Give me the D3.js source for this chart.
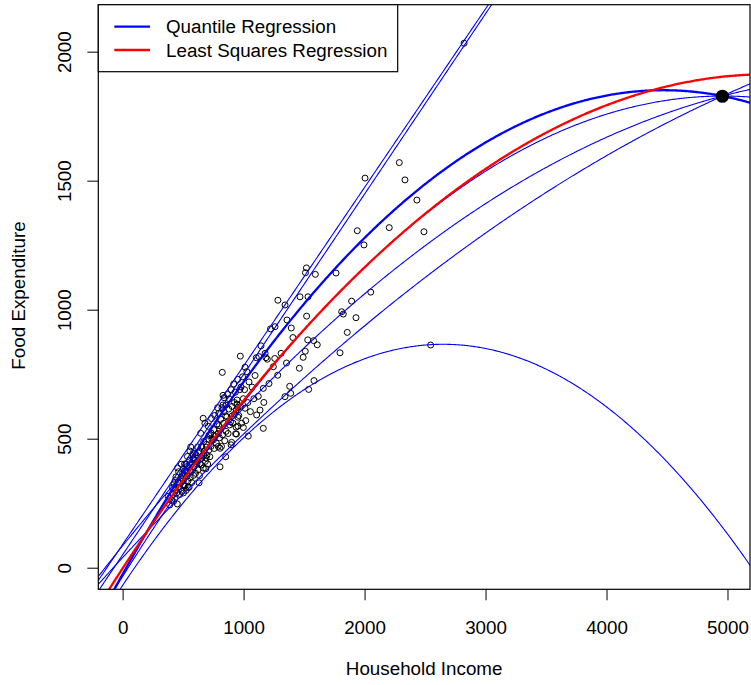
<!DOCTYPE html>
<html>
<head>
<meta charset="utf-8">
<script src="https://cdn.jsdelivr.net/npm/d3@7"></script>
<style>
  body { margin: 0; background: #fff; }
  svg text { font-family: "Liberation Sans", Arial, Helvetica, sans-serif; font-size: 18.8px; fill: #000; }
</style>
</head>
<body>
<div id="chart"></div>
<script>
// Engel data: household income vs food expenditure
var income = [
  420.16, 541.41, 901.16, 639.08, 750.88, 945.80, 829.40, 979.16, 1309.88, 1492.40,
  502.84, 616.72, 790.92, 555.88, 713.44, 838.76, 535.08, 596.44, 924.56, 487.76,
  692.64, 997.88, 507.00, 654.16, 933.92, 433.68, 587.60, 896.47, 454.48, 585.00,
  800.80, 502.44, 713.52, 906.00, 880.60, 796.83, 854.88, 1167.37, 523.80, 670.78,
  377.06, 851.54, 1121.09, 625.52, 805.54, 558.58, 884.40, 1257.50, 2051.18, 1466.33,
  730.10, 2432.39, 940.92, 1177.85, 1222.59, 1519.58, 687.66, 953.12, 953.12, 953.12,
  939.04, 1283.40, 1511.58, 1342.58, 511.80, 689.80, 1532.31, 1056.08, 1209.85, 1354.55,
  2004, 2287, 2334, 1940, 2204, 2491, 1995, 1893, 1811, 1824,
  1929, 1857, 1797, 2546, 2822.5, 4957.8, 1593, 1764, 1359, 1521,
  1394, 1260, 1408, 1530, 1579, 1609, 1144, 1105, 1127, 1185,
  1196, 1510, 1246, 1461, 1282, 1381, 1389, 1538, 1582, 1342,
  1163, 1012, 1136, 1108, 1163,
  389, 405, 412, 418, 425, 430, 436, 441, 447, 452, 458, 463, 468, 474, 480, 485, 491, 496, 499,
  503, 512, 517, 521, 526, 531, 536, 540, 545, 550, 554, 559, 563, 568, 572, 577, 581, 586, 590, 598,
  603, 607, 615, 620, 624, 632, 636, 641, 645, 649, 653, 658, 666, 667, 671, 675, 680, 684, 693, 697,
  703, 708, 712, 721, 726, 730, 735, 739, 753, 757, 762, 766, 775, 780, 785, 790, 795, 805,
  803, 812, 817, 821, 824, 826, 830, 835, 839, 844, 852, 853, 862, 867, 872, 877, 892, 897,
  905, 912, 918, 925, 932, 938, 946, 952, 960, 968, 973, 975, 984, 992, 998,
  1008, 1012, 1018, 1027, 1035, 1039, 1045, 1070, 1085, 1095
];
var foodexp = [
  255.84, 310.96, 485.68, 403.00, 495.56, 633.80, 630.76, 700.44, 830.96, 815.36,
  338.00, 412.36, 520.00, 452.40, 512.72, 658.84, 392.60, 443.56, 640.12, 333.84,
  466.96, 543.40, 317.72, 424.32, 518.96, 338.00, 419.64, 476.32, 386.36, 423.28,
  503.36, 354.64, 497.32, 588.52, 654.60, 550.73, 528.38, 640.48, 401.32, 436.00,
  276.56, 588.35, 664.20, 444.86, 462.90, 377.78, 553.15, 810.90, 1067.95, 1049.88,
  522.70, 1424.80, 517.92, 830.96, 925.58, 1162.00, 383.46, 621.12, 548.60, 583.15,
  611.95, 1036.60, 1143.30, 1018.36, 375.94, 424.86, 1049.88, 604.74, 713.74, 793.40,
  1510, 1570, 1503, 1306, 1318, 1302, 1251, 1033, 992, 983,
  969, 912, 833, 863, 2032.7, 1827.2, 1137, 1142, 960, 975,
  929, 934, 892, 883, 880, 864, 860, 814, 818, 814,
  808, 839, 779, 773, 746, 703, 676, 691, 725, 663,
  695, 777, 611, 592, 540,
  243, 262, 310, 283, 325, 268, 302, 352, 290, 247, 331, 372, 312, 284, 348, 401, 296, 366, 322,
  290, 402, 318, 376, 300, 355, 431, 336, 388, 312, 417, 349, 468, 372, 330, 405, 442, 358, 390, 415,
  366, 438, 402, 468, 380, 329, 357, 450, 521, 398, 470, 433, 579, 386, 489, 452, 560, 412, 478, 436,
  402, 548, 455, 430, 515, 470, 578, 497, 535, 462, 590, 510, 483, 557, 620, 470, 598, 391,
  535, 575, 470, 620, 757, 515, 668, 560, 605, 492, 430, 630, 585, 672, 520, 615, 565, 690,
  625, 560, 712, 595, 680, 545, 650, 730, 590, 690, 820, 625, 560, 740, 655,
  690, 618, 570, 760, 640, 510, 720, 700, 655, 745
];

// highlighted observation (largest income)
var bigPoint = [4957.8, 1827.2];

// fitted quadratic curves: y = a + b*u + c*u^2, u = income / 1000
var qrThin = [
  [90, 692, 0],
  [50, 699, 0],
  [-33.9, 750.1, -75.55],
  [84.8, 580.6, -46.19],
  [39.2, 508.7, -29.83],
  [-68.7, 705.4, -133.1]
];
var qrThick = [-25.5, 839.7, -93.96];
var lsFit = [-2.7, 717.8, -67.26];

var xTicks = [0, 1000, 2000, 3000, 4000, 5000];
var yTicks = [0, 500, 1000, 1500, 2000];

var W = 751, H = 685;
var plot = {left: 98.3, right: 750, top: 4.7, bottom: 589.3};

var svg = d3.select("#chart").append("svg")
    .attr("width", W)
    .attr("height", H);

var x = d3.scaleLinear().domain([-201, 5186]).range([plot.left, plot.right]);
var y = d3.scaleLinear().domain([-83.7, 2182]).range([plot.bottom, plot.top]);

svg.append("clipPath").attr("id", "clip")
  .append("rect")
    .attr("x", plot.left).attr("y", plot.top)
    .attr("width", plot.right - plot.left)
    .attr("height", plot.bottom - plot.top);

var pts = income.map(function(d, i) { return [d, foodexp[i]]; });

svg.append("g")
    .attr("clip-path", "url(#clip)")
  .selectAll("circle")
  .data(pts)
  .enter().append("circle")
    .attr("cx", function(d) { return x(d[0]); })
    .attr("cy", function(d) { return y(d[1]); })
    .attr("r", 3)
    .attr("fill", "none")
    .attr("stroke", "#000")
    .attr("stroke-width", 1);

// sample grid across the plot width for drawing the fits
var grid = d3.range(-201, 5190, 10);

function curve(coef) {
  return d3.line()
    .x(function(d) { return x(d); })
    .y(function(d) { var u = d / 1000; return y(coef[0] + coef[1] * u + coef[2] * u * u); })(grid);
}

var lines = svg.append("g").attr("clip-path", "url(#clip)");

qrThin.forEach(function(c) {
  lines.append("path")
    .attr("d", curve(c))
    .attr("fill", "none")
    .attr("stroke", "#0000ff")
    .attr("stroke-width", 1.1);
});

lines.append("path")
    .attr("d", curve(qrThick))
    .attr("fill", "none")
    .attr("stroke", "#0000ff")
    .attr("stroke-width", 2.3);

lines.append("path")
    .attr("d", curve(lsFit))
    .attr("fill", "none")
    .attr("stroke", "#ff0000")
    .attr("stroke-width", 2.3);

svg.append("circle")
    .attr("cx", x(bigPoint[0]))
    .attr("cy", y(bigPoint[1]))
    .attr("r", 6.6)
    .attr("fill", "#000");

// axes
var xAxis = svg.append("g")
    .attr("transform", "translate(0," + plot.bottom + ")")
    .call(d3.axisBottom(x).tickValues(xTicks).tickSize(11).tickPadding(20).tickFormat(d3.format("d")));
xAxis.select(".domain").remove();
xAxis.selectAll("line").attr("stroke", "#000");
xAxis.selectAll("text").style("font-size", "18.8px").attr("fill", "#000");

var yAxis = svg.append("g")
    .attr("transform", "translate(" + plot.left + ",0)")
    .call(d3.axisLeft(y).tickValues(yTicks).tickSize(11).tickFormat(d3.format("d")));
yAxis.select(".domain").remove();
yAxis.selectAll("line").attr("stroke", "#000");
yAxis.selectAll("text")
    .attr("x", null).attr("dy", null)
    .attr("transform", "rotate(-90)")
    .attr("x", 0).attr("y", -27.3)
    .attr("text-anchor", "middle")
    .attr("fill", "#000")
    .style("font-size", "18.8px");

svg.append("rect")
    .attr("x", plot.left).attr("y", plot.top)
    .attr("width", plot.right - plot.left)
    .attr("height", plot.bottom - plot.top)
    .attr("fill", "none")
    .attr("stroke", "#000")
    .attr("stroke-width", 1.2);

svg.append("text")
    .attr("x", (plot.left + plot.right) / 2)
    .attr("y", 675)
    .attr("text-anchor", "middle")
    .text("Household Income");

svg.append("text")
    .attr("transform", "translate(24.5," + 295.5 + ") rotate(-90)")
    .attr("text-anchor", "middle")
    .text("Food Expenditure");

// legend
var legendItems = ["Quantile Regression", "Least Squares Regression"];
var legendColors = ["#0000ff", "#ff0000"];

var legend = svg.append("g");
legend.append("rect")
    .attr("x", plot.left).attr("y", plot.top)
    .attr("width", 397.7 - plot.left)
    .attr("height", 71.7 - plot.top)
    .attr("fill", "#fff")
    .attr("stroke", "#000")
    .attr("stroke-width", 1.2);

legendItems.forEach(function(t, i) {
  var ly = 26.7 + i * 23.3;
  legend.append("line")
      .attr("x1", 114.3).attr("x2", 150)
      .attr("y1", ly).attr("y2", ly)
      .attr("stroke", legendColors[i])
      .attr("stroke-width", 2.3);
  legend.append("text")
      .attr("x", 166).attr("y", ly)
      .attr("dy", "0.35em")
      .text(t);
});
</script>
</body>
</html>
